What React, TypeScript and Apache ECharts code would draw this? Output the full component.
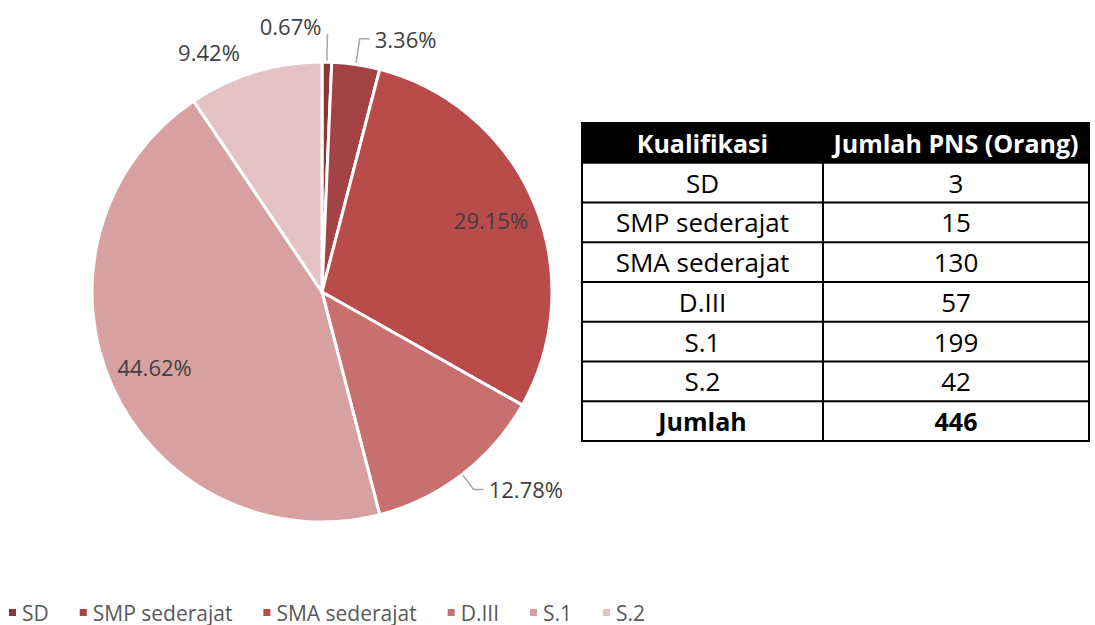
import React, { useEffect, useRef } from "react";
import * as echarts from "echarts";

const categories = ["SD", "SMP sederajat", "SMA sederajat", "D.III", "S.1", "S.2"];
const counts = [3, 15, 130, 57, 199, 42];
const sliceColors = ["#8C3536", "#A44343", "#B94B4B", "#C86F6F", "#D7A1A1", "#E4C2C3"];
const tableHeaders = ["Kualifikasi", "Jumlah PNS (Orang)"];
const totalLabel = "Jumlah";
const insideLabelIdx = [2, 4];
const outsideLine: Record<number, { length: number; length2: number; show: boolean }> = {
  0: { length: 28, length2: 0, show: true },
  1: { length: 26, length2: 10, show: true },
  3: { length: 19, length2: 10, show: true },
  5: { length: 21, length2: 4, show: false },
};

const FONT = "'Open Sans', sans-serif";
const CX = 322;
const CY = 292;
const R = 230;

function buildTable() {
  const x0 = 582;
  const y0 = 123;
  const colW = [241, 266];
  const rowH = 39.75;
  const rows: { a: string; b: string; bold: boolean }[] = [];
  categories.forEach((c, i) => rows.push({ a: c, b: String(counts[i]), bold: false }));
  rows.push({ a: totalLabel, b: String(counts.reduce((s, v) => s + v, 0)), bold: true });
  const totalRows = rows.length + 1;
  const W = colW[0] + colW[1];
  const H = rowH * totalRows;
  const els: any[] = [];
  els.push({ type: "rect", shape: { x: x0, y: y0, width: W, height: rowH }, style: { fill: "#000" } });
  for (let i = 1; i < totalRows; i++) {
    els.push({
      type: "line",
      shape: { x1: x0, y1: y0 + rowH * i, x2: x0 + W, y2: y0 + rowH * i },
      style: { stroke: "#000", lineWidth: 2 },
    });
  }
  els.push({
    type: "line",
    shape: { x1: x0 + colW[0], y1: y0, x2: x0 + colW[0], y2: y0 + H },
    style: { stroke: "#000", lineWidth: 2 },
  });
  els.push({
    type: "rect",
    shape: { x: x0, y: y0, width: W, height: H },
    style: { fill: "none", stroke: "#000", lineWidth: 2 },
  });
  const cx1 = x0 + colW[0] / 2;
  const cx2 = x0 + colW[0] + colW[1] / 2;
  const txt = (x: number, y: number, s: string, color: string, bold: boolean, size: number) => ({
    type: "text",
    x,
    y,
    style: {
      text: s,
      fill: color,
      font: `${bold ? "bold " : ""}${size}px ${FONT}`,
      align: "center",
      verticalAlign: "middle",
    },
  });
  els.push(txt(cx1, y0 + rowH / 2, tableHeaders[0], "#fff", true, 25));
  els.push(txt(cx2, y0 + rowH / 2, tableHeaders[1], "#fff", true, 25));
  rows.forEach((r, i) => {
    const yc = y0 + rowH * (i + 1) + rowH / 2;
    els.push(txt(cx1, yc, r.a, "#000", r.bold, r.bold ? 25 : 26));
    els.push(txt(cx2, yc, r.b, "#000", r.bold, r.bold ? 25 : 26));
  });
  return els;
}

export default function App() {
  const ref = useRef<HTMLDivElement>(null);
  useEffect(() => {
    if (!ref.current) return;
    const chart = echarts.init(ref.current, null, { renderer: "svg" });
    const mainData = categories.map((name, i) => {
      const ol = outsideLine[i];
      return {
        name,
        value: counts[i],
        itemStyle: { color: sliceColors[i] },
        label: { show: !!ol },
        labelLine: ol ? { show: ol.show, length: ol.length, length2: ol.length2 } : { show: false },
      };
    });
    const innerData = categories.map((name, i) => ({
      name,
      value: counts[i],
      label: { show: insideLabelIdx.includes(i) },
    }));
    chart.setOption({
      animation: false,
      backgroundColor: "#fff",
      legend: {
        data: categories,
        left: 2,
        top: 602,
        padding: [0, 5],
        icon: "rect",
        itemWidth: 9,
        itemHeight: 9,
        itemGap: 29,
        textStyle: { color: "#595959", fontSize: 21, lineHeight: 21, fontFamily: FONT },
      },
      graphic: buildTable(),
      series: [
        {
          type: "pie",
          center: [CX, CY],
          radius: [0, R],
          startAngle: 90,
          clockwise: true,
          avoidLabelOverlap: false,
          silent: true,
          itemStyle: { borderColor: "#fff", borderWidth: 3 },
          label: {
            position: "outside",
            formatter: "{d}%",
            color: "#404040",
            fontSize: 22,
            fontFamily: FONT,
          },
          labelLine: { lineStyle: { color: "#A6A6A6", width: 1.5 }, smooth: false },
          labelLayout: (params: any) => {
            if (params.dataIndex === 0 && params.labelLinePoints) {
              const pts = params.labelLinePoints;
              const end = pts[pts.length - 1];
              return {
                x: end[0] - 6,
                y: end[1] - 8,
                align: "right",
                verticalAlign: "middle",
                labelLinePoints: pts,
              };
            }
            return {};
          },
          data: mainData,
        },
        {
          type: "pie",
          center: [CX, CY],
          radius: [0, R * 1.57],
          startAngle: 90,
          clockwise: true,
          avoidLabelOverlap: false,
          silent: true,
          itemStyle: { color: "transparent", borderWidth: 0 },
          label: {
            position: "inside",
            formatter: "{d}%",
            color: "#404040",
            fontSize: 22,
            fontFamily: FONT,
          },
          labelLine: { show: false },
          data: innerData,
        },
      ],
    });
    return () => chart.dispose();
  }, []);
  return (
    <div
      ref={ref}
      style={{ position: "absolute", left: 0, top: 0, width: 1095, height: 625 }}
    />
  );
}
